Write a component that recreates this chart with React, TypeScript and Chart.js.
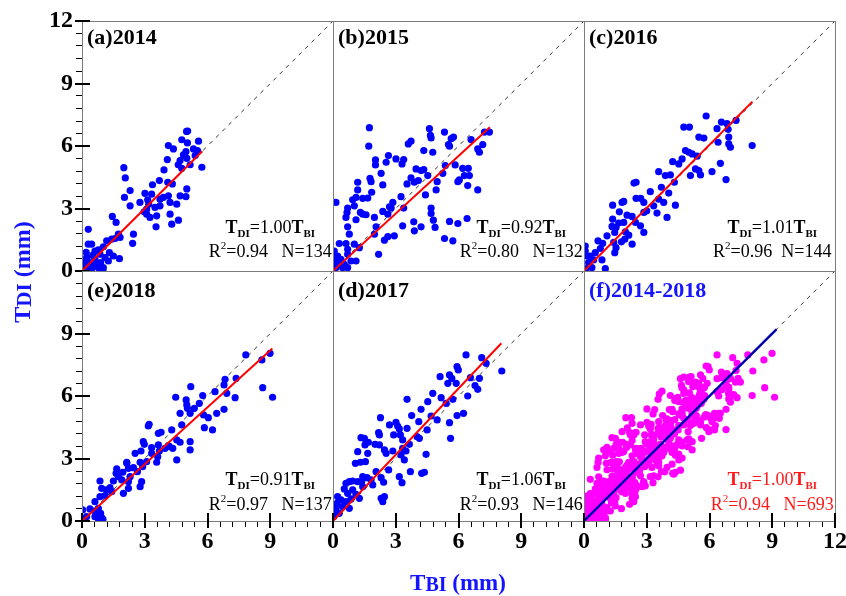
import React, { useEffect, useRef } from "react";
import { Chart, registerables } from "chart.js";

Chart.register(...registerables);

type Pt = [number, number];

// ---------------- DATA (TBI, TDI in mm) ----------------
const P2014: Pt[] = [
  [5.0, 6.7], [5.05, 6.72], [4.77, 6.3], [5.04, 6.15], [5.57, 6.23], [4.13, 6.02], [4.37, 5.86], [4.97, 5.73],
  [5.33, 5.86], [5.52, 5.78], [4.85, 5.57], [5.41, 5.54], [4.08, 5.35], [4.69, 5.3], [5.01, 5.41], [4.6, 5.1],
  [4.77, 4.93], [5.17, 5.1], [5.73, 4.98], [2.0, 4.96], [2.07, 4.47], [3.92, 4.85], [3.7, 4.34], [4.1, 4.26],
  [3.37, 4.14], [4.32, 4.18], [2.3, 3.86], [2.03, 3.53], [3.01, 3.73], [3.33, 3.69], [3.73, 3.45], [3.89, 3.53],
  [4.13, 3.61], [4.69, 3.61], [5.01, 3.94], [4.97, 3.57], [3.14, 3.42], [3.19, 3.21], [3.49, 3.05], [3.73, 3.13],
  [4.21, 3.29], [4.53, 3.21], [2.77, 3.29], [2.3, 3.13], [3.09, 2.97], [2.97, 2.84], [3.09, 2.73], [3.25, 2.57],
  [3.57, 2.65], [4.21, 2.73], [4.29, 2.25], [4.61, 2.44], [3.54, 2.12], [1.45, 2.62], [1.63, 2.33], [1.74, 1.77],
  [2.46, 1.77], [2.42, 1.33], [1.79, 0.59], [0.3, 2.0], [0.3, 1.29], [0.46, 1.29], [0.62, 0.96], [0.78, 1.01],
  [1.02, 1.16], [1.18, 1.45], [1.42, 1.53], [1.58, 1.56], [1.82, 1.61], [0.86, 0.8], [1.1, 0.64], [1.31, 0.88],
  [1.26, 0.48], [0.89, 0.4], [0.62, 0.56], [0.38, 0.4], [0.14, 0.24], [0.06, 0.08], [0.3, 0.16], [0.54, 0.27],
  [0.78, 0.16], [1.02, 0.16], [0.22, 0.64], [0.51, 0.75], [1.5, 0.72], [0.1, 0.5], [0.2, 0.9], [0.7, 0.3],
  [1.0, 0.05], [0.45, 0.05],
];

const P2015: Pt[] = [
  [1.74, 6.88], [1.71, 5.99], [4.61, 6.83], [4.66, 6.51], [4.69, 6.39], [5.33, 6.67], [5.65, 6.35], [5.76, 6.43],
  [5.52, 6.07], [5.57, 5.99], [3.73, 6.23], [3.6, 6.1], [4.34, 5.78], [4.77, 5.7], [7.24, 6.67], [7.48, 6.67],
  [6.92, 5.86], [7.0, 5.7], [7.16, 6.07], [6.6, 6.31], [2.65, 5.54], [2.54, 5.22], [2.03, 5.33], [2.03, 5.09],
  [3.01, 5.38], [3.3, 5.14], [3.38, 5.35], [3.97, 4.9], [4.21, 4.82], [4.34, 4.87], [5.37, 5.06], [5.84, 5.09],
  [6.2, 4.93], [6.47, 4.93], [2.3, 4.69], [1.77, 4.45], [1.82, 4.29], [1.18, 4.26], [1.18, 3.89], [2.38, 4.13],
  [3.54, 4.18], [3.73, 4.47], [3.89, 4.26], [4.08, 4.34], [4.53, 4.58], [4.98, 4.29], [5.25, 4.69], [4.93, 3.89],
  [4.42, 3.65], [5.97, 4.29], [6.04, 4.37], [6.28, 4.58], [6.44, 4.1], [6.52, 4.58], [6.92, 3.89], [1.85, 3.78],
  [1.1, 3.53], [1.42, 3.49], [1.66, 3.5], [0.94, 3.42], [0.7, 3.02], [0.14, 3.29], [1.02, 3.13], [1.31, 2.81],
  [1.42, 2.73], [1.58, 2.7], [1.98, 2.57], [0.67, 2.81], [0.62, 2.57], [1.1, 2.46], [2.38, 2.86], [2.7, 3.08],
  [2.86, 3.29], [2.78, 3.02], [2.62, 2.73], [3.38, 3.02], [3.25, 3.57], [2.06, 2.12], [1.98, 1.77], [0.78, 1.77],
  [0.7, 2.12], [4.69, 3.02], [4.69, 2.76], [4.8, 2.44], [4.88, 2.09], [3.86, 2.36], [4.21, 2.12], [3.89, 1.93],
  [5.57, 2.38], [5.97, 2.28], [6.41, 2.52], [2.46, 1.48], [2.62, 1.65], [2.93, 1.69], [3.33, 2.17], [5.33, 1.56],
  [5.73, 1.45], [2.18, 0.8], [0.3, 1.32], [0.62, 1.32], [0.7, 1.04], [0.7, 0.8], [1.1, 0.48], [0.06, 0.96],
  [0.06, 0.64], [0.22, 0.72], [0.38, 0.56], [0.22, 0.4], [0.06, 0.32], [0.54, 0.32], [0.86, 0.48], [0.46, 0.16],
  [0.7, 0.16], [0.14, 0.16], [1.02, 1.29], [1.26, 1.12],
];

const P2016: Pt[] = [
  [5.84, 7.44], [4.77, 6.91], [5.04, 6.91], [6.36, 6.83], [6.57, 7.15], [6.84, 7.07], [7.27, 7.23], [6.89, 6.8],
  [5.49, 6.43], [5.73, 6.38], [6.41, 6.18], [6.92, 6.43], [6.92, 6.1], [7.0, 5.94], [8.04, 6.02], [4.85, 5.78],
  [5.01, 5.7], [5.17, 5.62], [5.41, 5.51], [4.69, 5.38], [4.53, 5.14], [4.24, 5.25], [5.33, 4.9], [5.49, 4.82],
  [5.09, 4.58], [5.57, 4.61], [6.12, 4.77], [6.52, 5.17], [6.79, 4.39], [3.57, 4.77], [3.89, 4.58], [4.13, 4.61],
  [4.32, 4.26], [2.39, 4.22], [2.49, 4.26], [3.7, 4.02], [3.17, 3.81], [2.71, 3.49], [2.49, 3.49], [1.9, 3.34],
  [1.82, 3.29], [2.86, 3.29], [3.57, 3.45], [3.81, 3.29], [4.05, 3.74], [4.37, 3.16], [3.33, 3.13], [3.49, 2.78],
  [3.97, 2.57], [3.0, 2.89], [2.86, 2.81], [2.3, 2.62], [2.06, 2.68], [1.69, 2.84], [1.37, 3.16], [1.9, 2.33],
  [1.66, 2.3], [1.53, 2.09], [1.47, 1.85], [1.34, 2.14], [1.37, 2.49], [1.98, 1.88], [2.14, 1.72], [2.7, 2.17],
  [2.86, 1.85], [1.79, 1.4], [2.3, 1.29], [1.42, 1.37], [1.1, 1.69], [0.89, 1.33], [0.67, 1.45], [0.78, 1.08],
  [0.54, 0.88], [0.3, 0.72], [0.06, 1.2], [0.06, 0.96], [0.14, 0.72], [0.46, 0.53], [0.86, 0.53], [1.02, 0.11],
  [0.22, 0.4], [0.38, 0.16], [0.1, 0.11], [1.47, 0.88], [1.53, 1.12], [1.95, 1.53], [2.46, 2.33],
];

const P2017: Pt[] = [
  [6.36, 7.97], [7.11, 7.84], [7.32, 7.57], [8.07, 7.2], [5.93, 7.41], [5.99, 7.25], [5.12, 6.93], [5.57, 7.01],
  [5.68, 6.85], [5.49, 6.61], [5.89, 6.61], [6.57, 6.88], [7.0, 6.85], [6.79, 6.5], [6.92, 6.32], [6.44, 6.0],
  [4.77, 6.13], [5.17, 5.92], [5.41, 5.65], [5.73, 5.84], [3.54, 5.84], [4.53, 5.73], [4.21, 5.36], [4.69, 5.04],
  [4.98, 4.85], [3.76, 5.06], [5.93, 5.06], [6.24, 5.17], [5.57, 4.72], [5.62, 3.97], [4.1, 4.77], [4.5, 4.37],
  [4.02, 4.05], [4.13, 3.97], [2.27, 4.96], [2.7, 4.61], [3.01, 4.74], [3.09, 4.56], [3.17, 4.42], [3.22, 4.13],
  [2.9, 4.13], [3.54, 4.45], [3.65, 3.68], [3.33, 3.89], [3.33, 3.49], [3.49, 3.36], [3.25, 3.17], [3.41, 2.93],
  [3.7, 2.37], [4.24, 2.29], [4.37, 2.34], [4.45, 3.2], [2.66, 2.45], [3.17, 2.13], [3.3, 1.84], [2.18, 4.24],
  [2.22, 4.13], [2.46, 3.41], [2.54, 3.25], [2.86, 3.36], [2.22, 3.65], [2.01, 3.68], [1.34, 4.0], [1.5, 3.97],
  [1.53, 3.65], [1.69, 3.78], [1.66, 3.25], [1.18, 3.33], [1.07, 2.77], [1.31, 2.82], [1.55, 2.85], [2.06, 2.37],
  [2.3, 2.08], [2.42, 1.86], [1.9, 1.73], [1.82, 1.97], [1.63, 2.08], [1.42, 2.13], [1.37, 1.89], [1.42, 1.65],
  [1.18, 1.89], [0.94, 1.92], [0.78, 1.89], [0.62, 1.81], [0.54, 1.54], [0.7, 1.33], [0.94, 1.49], [1.1, 1.28],
  [1.26, 1.09], [0.86, 1.06], [0.62, 0.93], [0.38, 1.01], [0.22, 1.17], [0.19, 0.85], [0.14, 0.61], [0.3, 0.37],
  [0.03, 0.21], [0.06, 0.48], [0.46, 0.69], [0.78, 0.61], [2.3, 1.09], [2.46, 1.17], [2.38, 0.93],
];

const P2018: Pt[] = [
  [7.83, 7.97], [8.99, 8.05], [8.6, 7.73], [8.64, 6.4], [9.11, 5.94], [6.84, 6.8], [7.37, 6.85], [6.79, 6.53],
  [6.92, 6.13], [7.32, 5.92], [6.36, 6.21], [5.2, 6.45], [4.48, 5.94], [4.98, 5.81], [5.01, 5.57], [5.04, 5.41],
  [4.69, 5.17], [5.17, 5.17], [5.37, 5.41], [5.61, 5.65], [5.77, 6.02], [5.81, 5.09], [6.04, 4.96], [6.44, 5.17],
  [6.79, 5.36], [6.24, 4.37], [5.85, 4.48], [3.21, 4.64], [3.17, 4.56], [3.65, 4.21], [3.78, 4.26], [4.29, 4.37],
  [4.77, 4.61], [4.53, 3.89], [4.69, 3.78], [4.18, 3.57], [4.34, 3.49], [5.17, 3.81], [5.17, 3.41], [4.53, 2.93],
  [2.93, 3.81], [2.98, 3.68], [2.82, 3.36], [2.54, 3.25], [3.33, 3.52], [3.65, 3.65], [3.62, 3.09], [3.57, 2.82],
  [3.97, 3.49], [4.13, 3.62], [3.7, 3.36], [3.33, 3.25], [3.09, 2.85], [2.78, 2.82], [2.9, 2.61], [2.65, 2.37],
  [2.14, 2.77], [2.22, 2.53], [1.95, 2.34], [1.66, 2.5], [1.63, 2.29], [1.9, 1.97], [2.22, 1.89], [2.85, 1.89],
  [2.78, 1.65], [0.86, 1.92], [0.94, 1.57], [1.18, 1.49], [1.42, 1.41], [1.5, 1.92], [1.34, 1.6], [1.1, 1.22],
  [0.86, 1.17], [0.62, 0.93], [0.78, 0.61], [0.62, 0.48], [0.38, 0.58], [0.89, 0.37], [0.94, 0.16], [0.62, 0.21],
  [0.22, 0.21], [0.03, 0.53], [0.03, 0.13], [1.74, 2.13], [2.3, 2.13], [1.98, 1.33], [2.22, 1.57], [2.14, 2.82],
  [2.46, 2.56], [0.8, 0.05], [1.0, 0.08],
];

// Panel (f) pools the yearly samples; the far 2015 outliers are not visible in the pooled panel of the picture.
const P2015_IN_F: Pt[] = P2015.filter(([x, y]) => y - x < 2.6 && x - y < 1.9);
const P_ALL: Pt[] = [...P2014, ...P2015_IN_F, ...P2016, ...P2017, ...P2018];

const PANEL_POINTS: Pt[][] = [P2014, P2015, P2016, P2018, P2017, P_ALL];
const PANEL_TITLES = ["(a)2014", "(b)2015", "(c)2016", "(e)2018", "(d)2017", "(f)2014-2018"];
const SLOPES = [1.0, 0.92, 1.01, 0.91, 1.06, 1.0];
const R2 = [0.94, 0.8, 0.96, 0.97, 0.93, 0.94];
const COUNTS = [134, 132, 144, 137, 146, 693];
const FIT_X_END = [5.75, 7.5, 8.05, 9.1, 8.05, 9.2];
const GAPS = ["  ", "  ", " ", "  ", "  ", "  "];
const MAJOR_TICKS = [0, 3, 6, 9, 12];
const AXIS_MIN = 0;
const AXIS_MAX = 12;
const MINOR_STEP = 0.6;

// ---------------- LAYOUT ----------------
const W = 846;
const H = 596;
const COL_X = [82, 333, 584, 835];
const ROW_Y = [21, 271, 521];
const Y_W = 60;
const X_H = 45;
const SERIF = "'Liberation Serif', 'Times New Roman', Times, serif";

type Part = { t: string; font: string; dy: number };

function drawParts(ctx: CanvasRenderingContext2D, parts: Part[], cx: number, base: number) {
  let total = 0;
  for (const p of parts) {
    ctx.font = p.font;
    total += ctx.measureText(p.t).width;
  }
  let x = cx - total / 2;
  ctx.textAlign = "left";
  ctx.textBaseline = "alphabetic";
  for (const p of parts) {
    ctx.font = p.font;
    ctx.fillText(p.t, x, base + p.dy);
    x += ctx.measureText(p.t).width;
  }
}

function Panel({ idx }: { idx: number }) {
  const ref = useRef<HTMLCanvasElement>(null);

  useEffect(() => {
    const col = idx % 3;
    const row = Math.floor(idx / 3);
    const L = COL_X[col];
    const R = COL_X[col + 1];
    const T = ROW_Y[row];
    const B = ROW_Y[row + 1];
    const showY = col === 0;
    const showX = row === 1;
    const allowY12 = row === 0;
    const allowX12 = col === 2;
    const isAll = idx === 5;
    const ptColor = isAll ? "#ff00ff" : "#0000ff";
    const pts = PANEL_POINTS[idx];
    const slope = SLOPES[idx];
    const xEnd = FIT_X_END[idx];

    const labelCb = (allow12: boolean) => (v: any) => {
      const n = Number(v);
      const r = Math.round(n);
      if (Math.abs(n - r) > 1e-6 || r % 3 !== 0) return "";
      if (r === 12 && !allow12) return "";
      return String(r);
    };
    const tickFont = { family: SERIF, size: 24, weight: "bold" as const };

    const decor = {
      id: "decor" + idx,
      afterDatasetsDraw(chart: any) {
        const { ctx, chartArea: a } = chart;
        const xs = chart.scales.x;
        const ys = chart.scales.y;
        ctx.save();
        ctx.strokeStyle = "#7c7c7c";
        ctx.lineWidth = 1;
        ctx.strokeRect(
          Math.round(a.left) + 0.5,
          Math.round(a.top) + 0.5,
          Math.round(a.right - a.left),
          Math.round(a.bottom - a.top)
        );
        ctx.strokeStyle = "#000";
        ctx.lineWidth = 2;
        ctx.beginPath();
        if (showY) {
          for (const v of MAJOR_TICKS) {
            if (v === 12 && !allowY12) continue;
            const y = Math.round(ys.getPixelForValue(v));
            ctx.moveTo(a.left - 7, y);
            ctx.lineTo(a.left + 8, y);
          }
        }
        if (showX) {
          for (const v of MAJOR_TICKS) {
            if (v === 12 && !allowX12) continue;
            const x = Math.round(xs.getPixelForValue(v));
            ctx.moveTo(x, a.bottom + 7);
            ctx.lineTo(x, a.bottom - 8);
          }
        }
        ctx.stroke();
        ctx.restore();
      },
      afterDraw(chart: any) {
        const { ctx, chartArea: a } = chart;
        const xs = chart.scales.x;
        ctx.save();
        // panel title
        ctx.fillStyle = isAll ? "#1414ff" : "#000";
        ctx.font = `bold 22px ${SERIF}`;
        ctx.textAlign = "left";
        ctx.textBaseline = "alphabetic";
        ctx.fillText(PANEL_TITLES[idx], a.left + 5, a.top + (row === 0 ? 23 : 26));

        // annotation
        ctx.fillStyle = isAll ? "#ff1a1a" : "#000";
        const cx = xs.getPixelForValue(9);
        const b1 = a.bottom + (row === 0 ? -38 : -36);
        const b2 = a.bottom + (row === 0 ? -14 : -11);
        const big = `18px ${SERIF}`;
        const bigB = `bold 18px ${SERIF}`;
        const smallB = `bold 11px ${SERIF}`;
        const small = `11px ${SERIF}`;
        drawParts(
          ctx,
          [
            { t: "T", font: bigB, dy: 0 },
            { t: "DI", font: smallB, dy: 4 },
            { t: "=" + slope.toFixed(2), font: big, dy: 0 },
            { t: "T", font: bigB, dy: 0 },
            { t: "BI", font: smallB, dy: 4 },
          ],
          cx,
          b1
        );
        drawParts(
          ctx,
          [
            { t: "R", font: big, dy: 0 },
            { t: "2", font: small, dy: -8 },
            { t: "=" + R2[idx].toFixed(2) + GAPS[idx] + " N=" + COUNTS[idx], font: big, dy: 0 },
          ],
          cx,
          b2
        );

        // shared axis titles, drawn once
        if (idx === 3) {
          ctx.fillStyle = "#1414ff";
          drawParts(
            ctx,
            [
              { t: "T", font: `bold 23px ${SERIF}`, dy: 0 },
              { t: "BI", font: `bold 20px ${SERIF}`, dy: 1 },
              { t: " (mm)", font: `bold 23px ${SERIF}`, dy: 0 },
            ],
            458,
            590
          );
          ctx.translate(30, 272);
          ctx.rotate(-Math.PI / 2);
          drawParts(
            ctx,
            [
              { t: "T", font: `bold 24px ${SERIF}`, dy: 0 },
              { t: "DI", font: `bold 21px ${SERIF}`, dy: 1 },
              { t: " (mm)", font: `bold 24px ${SERIF}`, dy: 0 },
            ],
            0,
            0
          );
        }
        ctx.restore();
      },
    };

    const chart = new Chart(ref.current as HTMLCanvasElement, {
      type: "scatter",
      data: {
        datasets: [
          {
            type: "scatter",
            data: pts.map(([x, y]) => ({ x, y })),
            pointRadius: 3.6,
            pointBackgroundColor: ptColor,
            pointBorderColor: ptColor,
            pointBorderWidth: 0,
            showLine: false,
            clip: 0,
            order: 2,
          } as any,
          {
            type: "scatter",
            data: [
              { x: AXIS_MIN, y: AXIS_MIN },
              { x: AXIS_MAX, y: AXIS_MAX },
            ],
            showLine: true,
            borderColor: "#333",
            borderWidth: 1,
            borderDash: [4, 5],
            pointRadius: 0,
            clip: 0,
            order: 3,
          } as any,
          {
            type: "scatter",
            data: [
              { x: 0, y: 0 },
              { x: xEnd, y: slope * xEnd },
            ],
            showLine: true,
            borderColor: isAll ? "#0000ee" : "#ff0000",
            borderWidth: isAll ? 2.5 : 2,
            pointRadius: 0,
            clip: 0,
            order: 1,
          } as any,
          ...(isAll
            ? [
                {
                  type: "scatter",
                  data: [
                    { x: 0, y: 0 },
                    { x: xEnd, y: slope * xEnd },
                  ],
                  showLine: true,
                  borderColor: "#000000",
                  borderWidth: 0.8,
                  pointRadius: 0,
                  clip: 0,
                  order: 0,
                } as any,
              ]
            : []),
        ],
      },
      options: {
        responsive: false,
        maintainAspectRatio: false,
        animation: false,
        devicePixelRatio: 1,
        events: [],
        layout: {
          padding: {
            left: showY ? L - Y_W : L,
            top: T,
            right: W - R,
            bottom: showX ? H - B - X_H : H - B,
          },
        },
        plugins: {
          legend: { display: false },
          tooltip: { enabled: false },
          title: { display: false },
        },
        scales: {
          x: {
            type: "linear",
            position: "bottom",
            display: showX,
            min: AXIS_MIN,
            max: AXIS_MAX,
            ticks: {
              stepSize: MINOR_STEP,
              maxTicksLimit: 100,
              autoSkip: false,
              maxRotation: 0,
              minRotation: 0,
              padding: 0,
              color: "#000",
              font: tickFont,
              callback: labelCb(allowX12),
            },
            grid: {
              display: true,
              drawOnChartArea: false,
              drawTicks: true,
              tickLength: 6,
              tickColor: "#000",
              tickWidth: 1,
            },
            border: { display: false },
            afterFit: (s: any) => {
              if (showX) s.height = X_H;
              s.paddingLeft = 0;
              s.paddingRight = 0;
              s.paddingTop = 0;
              s.paddingBottom = 0;
            },
          },
          y: {
            type: "linear",
            position: "left",
            display: showY,
            min: AXIS_MIN,
            max: AXIS_MAX,
            ticks: {
              stepSize: MINOR_STEP,
              maxTicksLimit: 100,
              autoSkip: false,
              padding: 3,
              color: "#000",
              font: tickFont,
              callback: labelCb(allowY12),
            },
            grid: {
              display: true,
              drawOnChartArea: false,
              drawTicks: true,
              tickLength: 6,
              tickColor: "#000",
              tickWidth: 1,
            },
            border: { display: false },
            afterFit: (s: any) => {
              if (showY) s.width = Y_W;
              s.paddingLeft = 0;
              s.paddingRight = 0;
              s.paddingTop = 0;
              s.paddingBottom = 0;
            },
          },
        },
      } as any,
      plugins: [decor as any],
    });

    return () => chart.destroy();
  }, [idx]);

  return (
    <canvas
      ref={ref}
      width={W}
      height={H}
      style={{ position: "absolute", left: 0, top: 0, width: W, height: H }}
    />
  );
}

export default function App() {
  return (
    <div style={{ position: "absolute", left: 0, top: 0, width: W, height: H, background: "#fff" }}>
      {[0, 1, 2, 3, 4, 5].map((i) => (
        <Panel key={i} idx={i} />
      ))}
    </div>
  );
}
